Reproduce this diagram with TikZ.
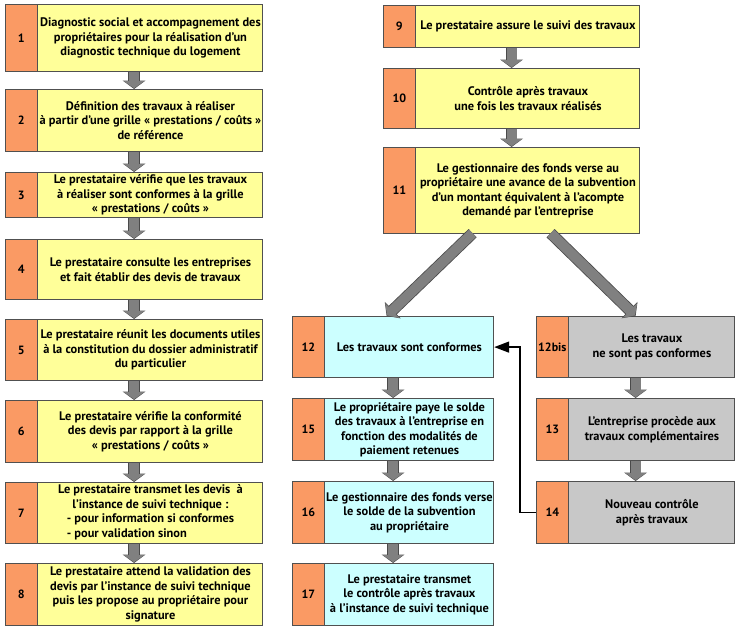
\documentclass[tikz,border=0pt]{standalone}
\usepackage{fontspec}
\setmainfont{PT Sans}
\usetikzlibrary{arrows.meta,calc}
\definecolor{cyel}{HTML}{FFFF99}
\definecolor{corange}{HTML}{FA9A64}
\definecolor{ccyan}{HTML}{CCFFFF}
\definecolor{cgray}{HTML}{C8C8C8}
\definecolor{cedge}{HTML}{505050}
\definecolor{carrow}{HTML}{808080}
\definecolor{carrowedge}{HTML}{4A4A4A}
\tikzset{
  outerbox/.style={draw=cedge, line width=1.2pt, rectangle, inner sep=0pt},
  stripbox/.style={draw=cedge, line width=1.2pt, fill=corange, rectangle, inner sep=0pt,
    font=\bfseries\fontsize{12}{14.5}\selectfont},
  textonly/.style={align=center, inner sep=0pt, font=\bfseries\fontsize{12.4}{14.5}\selectfont},
  bigarrow/.style={line width=10pt, draw=carrow, -{Triangle[width=20pt,length=7pt]},
    shorten >=0.8pt,
    preaction={draw=carrowedge, line width=11.6pt, -{Triangle[width=22.5pt,length=8.5pt]}, shorten >=0pt}},
  fback/.style={draw=black, line width=1.5pt, -{Triangle[width=11pt,length=15pt]}}
}
\newcommand\stepbox[8]{%
  \node[outerbox, fill=#6, minimum width={(#4)-(#2)}, minimum height={(#5)-(#3)}, anchor=north west] (#1) at (#2,#3) {};
  \node[stripbox, minimum width=31.5pt, minimum height={(#5)-(#3)}, anchor=north west] (#1n) at (#1.north west) {#7};
  \node[textonly] (#1t) at ($(#1n.east)!0.5!(#1.east)$) {#8};
}
\begin{document}
\begin{tikzpicture}[x=1pt,y=-1pt]
\useasboundingbox (0,0) rectangle (750,633);
% left column
\stepbox{s1}{5}{4}{262}{71}{cyel}{1}{Diagnostic social et accompagnement des\\propriétaires pour la réalisation d'un\\diagnostic technique du logement}
\stepbox{s2}{5}{89}{262}{151}{cyel}{2}{Définition des travaux à réaliser\\à partir d'une grille «~prestations / coûts~»\\de référence}
\stepbox{s3}{5}{172}{262}{217}{cyel}{3}{Le prestataire vérifie que les travaux\\à réaliser sont conformes à la grille\\«~prestations / coûts~»}
\stepbox{s4}{5}{239}{262}{299}{cyel}{4}{Le prestataire consulte les entreprises\\et fait établir des devis de travaux}
\stepbox{s5}{5}{319}{262}{380}{cyel}{5}{Le prestataire réunit les documents utiles\\à la constitution du dossier administratif\\du particulier}
\stepbox{s6}{5}{400}{262}{462}{cyel}{6}{Le prestataire vérifie la conformité\\des devis par rapport à la grille\\«~prestations / coûts~»}
\stepbox{s7}{5}{482}{262}{543}{cyel}{7}{Le prestataire transmet les devis~ à\\l'instance de suivi technique :\\\begin{tabular}[t]{@{}l@{}}- pour information si conformes\\- pour validation sinon\end{tabular}}
\stepbox{s8}{5}{563}{262}{625}{cyel}{8}{Le prestataire attend la validation des\\devis par l'instance de suivi technique\\puis les propose au propriétaire pour\\signature}
% right top column
\stepbox{s9}{383}{5}{639}{47}{cyel}{9}{Le prestataire assure le suivi des travaux}
\stepbox{s10}{383}{68}{639}{128}{cyel}{10}{Contrôle après travaux\\une fois les travaux réalisés}
\stepbox{s11}{383}{147}{639}{233}{cyel}{11}{Le gestionnaire des fonds verse au\\propriétaire une avance de la subvention\\d'un montant équivalent à l’acompte\\demandé par l'entreprise}
% middle column
\stepbox{s12}{292}{316}{493}{377}{ccyan}{12}{Les travaux sont conformes}
\stepbox{s15}{292}{398}{493}{460}{ccyan}{15}{Le propriétaire paye le solde\\des travaux à l'entreprise en\\fonction des modalités de\\paiement retenues}
\stepbox{s16}{292}{481}{493}{543}{ccyan}{16}{Le gestionnaire des fonds verse\\le solde de la subvention\\au propriétaire}
\stepbox{s17}{292}{563}{493}{625}{ccyan}{17}{Le prestataire transmet\\le contrôle après travaux\\à l'instance de suivi technique}
% far right column
\stepbox{s12b}{536}{316}{734}{377}{cgray}{12bis}{Les travaux\\ne sont pas conformes}
\stepbox{s13}{536}{398}{734}{460}{cgray}{13}{L'entreprise procède aux\\travaux complémentaires}
\stepbox{s14}{536}{481}{734}{543}{cgray}{14}{Nouveau contrôle\\après travaux}
% gray arrows
\foreach \a/\b in {s1/s2,s2/s3,s3/s4,s4/s5,s5/s6,s6/s7,s7/s8,s9/s10,s10/s11,s12/s15,s15/s16,s16/s17,s12b/s13,s13/s14}
  \draw[bigarrow] (\a.south) -- (\b.north);
\draw[bigarrow] ($(s11.south)+(-39,-1)$) -- ($(s12.north)+(-6.5,0)$);
\draw[bigarrow] ($(s11.south)+(39,-1)$) -- (s12b.north);
% feedback
\coordinate (fbx) at ($(s14.west)+(-16,0)$);
\draw[fback] (s14.west) -- (fbx) |- (s12.east);
\end{tikzpicture}
\end{document}
